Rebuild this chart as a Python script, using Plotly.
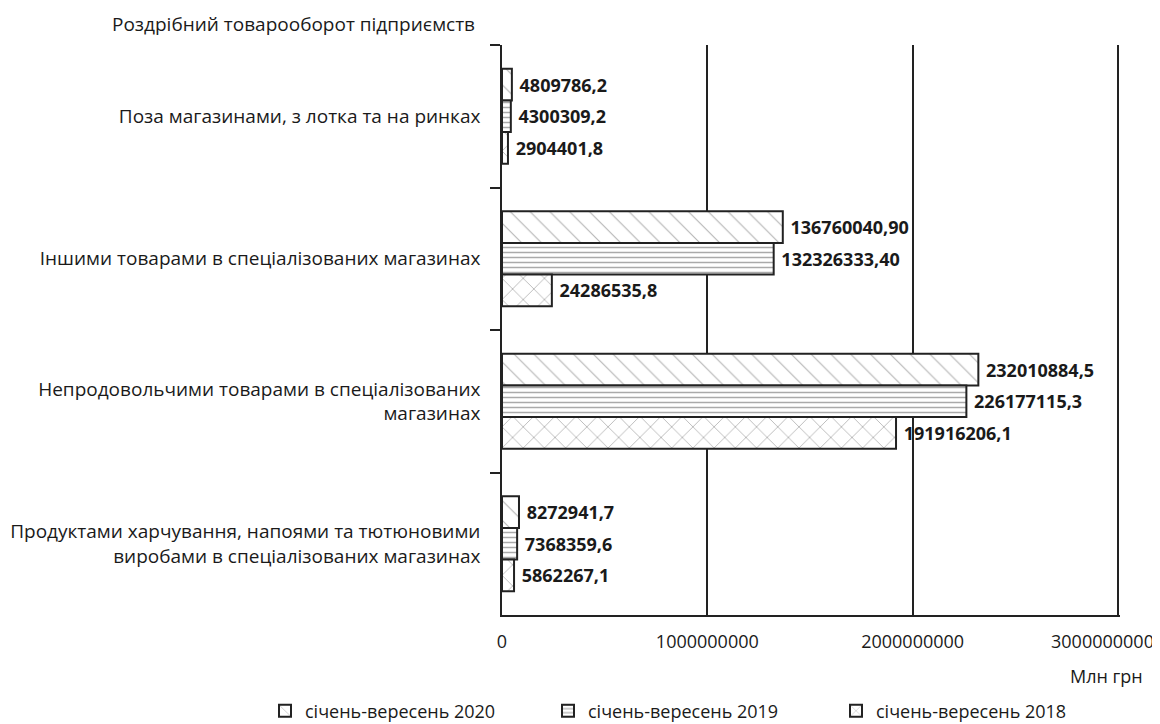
import plotly.graph_objects as go

# Categories, top to bottom
categories = [
    "Поза магазинами, з лотка та на ринках",
    "Іншими товарами в спеціалізованих магазинах",
    "Непродовольчими товарами в спеціалізованих<br>магазинах",
    "Продуктами харчування, напоями та тютюновими<br>виробами в спеціалізованих магазинах",
]

series_names = ["січень-вересень 2020", "січень-вересень 2019", "січень-вересень 2018"]

# Bar lengths as drawn on the axis
bars_2020 = [48097862, 1367600409, 2320108845, 82729417]
bars_2019 = [43003092, 1323263334, 2261771153, 73683596]
bars_2018 = [29044018, 242865358, 1919162061, 58622671]

# Data labels as printed next to the bars
labels_2020 = ["4809786,2", "136760040,90", "232010884,5", "8272941,7"]
labels_2019 = ["4300309,2", "132326333,40", "226177115,3", "7368359,6"]
labels_2018 = ["2904401,8", "24286535,8", "191916206,1", "5862267,1"]

x_tickvals = [0, 1000000000, 2000000000, 3000000000]
x_ticktext = ["0", "1000000000", "2000000000", "3000000000"]

FONT = "Open Sans"
TXT = "#1a1a1a"

L, R, T, B = 494, 48, 37, 117
W, H = 1160, 724
PW, PH = W - L - R, H - T - B
X_MAX = 3010000000  # slight room so the 3e9 grid line is drawn

patterns = [
    dict(shape="\\", fgcolor="#6a6a6a", bgcolor="white", size=14, solidity=0.08),
    dict(shape="-", fgcolor="#555555", bgcolor="white", size=5, solidity=0.3),
    dict(shape="x", fgcolor="#2a2a2a", bgcolor="white", size=15, solidity=0.08),
]
legend_ids = ["legend", "legend2", "legend3"]
legend_x = [257, 540, 828]

fig = go.Figure()
for name, vals, labs, pat, lid in zip(series_names,
                                      [bars_2020, bars_2019, bars_2018],
                                      [labels_2020, labels_2019, labels_2018],
                                      patterns, legend_ids):
    fig.add_trace(go.Bar(
        name=name,
        y=categories,
        x=vals,
        orientation="h",
        legend=lid,
        text=["\u00a0" + t for t in labs],
        textposition="outside",
        textfont=dict(family=FONT, size=18, color=TXT, weight="bold"),
        constraintext="none",
        cliponaxis=False,
        marker=dict(color="white", line=dict(color="#222222", width=2), pattern=pat),
    ))

legend_common = dict(orientation="h", xref="container", yref="container",
                     xanchor="left", y=1 - 703 / H, yanchor="middle",
                     font=dict(family=FONT, size=18, color=TXT),
                     bgcolor="rgba(0,0,0,0)")

# last tick label is pulled inside the page, as in the reference
shown_ticktext = x_ticktext[:-1] + [""]

fig.update_layout(
    width=W, height=H,
    margin=dict(l=L, r=R, t=T, b=B, autoexpand=False),
    paper_bgcolor="white", plot_bgcolor="white",
    barmode="group", bargap=0.333, bargroupgap=0,
    font=dict(family=FONT, size=18, color=TXT),
    title=dict(text="Роздрібний товарооборот підприємств",
               font=dict(family=FONT, size=19, color=TXT),
               x=104 / W, xanchor="left", xref="container",
               y=1 - 16 / H, yanchor="middle", yref="container"),
    showlegend=True,
    legend=dict(x=legend_x[0] / W, **legend_common),
    legend2=dict(x=legend_x[1] / W, **legend_common),
    legend3=dict(x=legend_x[2] / W, **legend_common),
    annotations=[
        dict(text="Млн грн", xref="paper", yref="paper",
             x=(1098 - L) / PW, y=-(668 - (T + PH)) / PH,
             xanchor="center", yanchor="middle", showarrow=False,
             font=dict(family=FONT, size=18, color=TXT)),
        dict(text=x_ticktext[-1], xref="paper", yref="paper",
             x=(1094 - L) / PW, y=-(633 - (T + PH)) / PH,
             xanchor="center", yanchor="middle", showarrow=False,
             font=dict(family=FONT, size=18, color=TXT)),
    ],
)

fig.update_xaxes(
    range=[0, X_MAX], tickvals=x_tickvals, ticktext=shown_ticktext,
    showgrid=True, gridcolor="#222222", gridwidth=1.5,
    showline=True, linecolor="#222222", linewidth=1.5,
    zeroline=False, ticks="", ticklabelstandoff=10, automargin=False,
    ticklabeloverflow="allow",
    tickfont=dict(family=FONT, size=18, color=TXT),
)
fig.update_yaxes(
    autorange="reversed", type="category",
    showline=True, linecolor="#222222", linewidth=1.5,
    ticks="outside", ticklen=10, tickwidth=1.5, tickcolor="#222222",
    tickson="boundaries", showgrid=False, ticklabelstandoff=16, automargin=False,
    tickfont=dict(family=FONT, size=19, color=TXT),
)

fig.write_html("out.html")
